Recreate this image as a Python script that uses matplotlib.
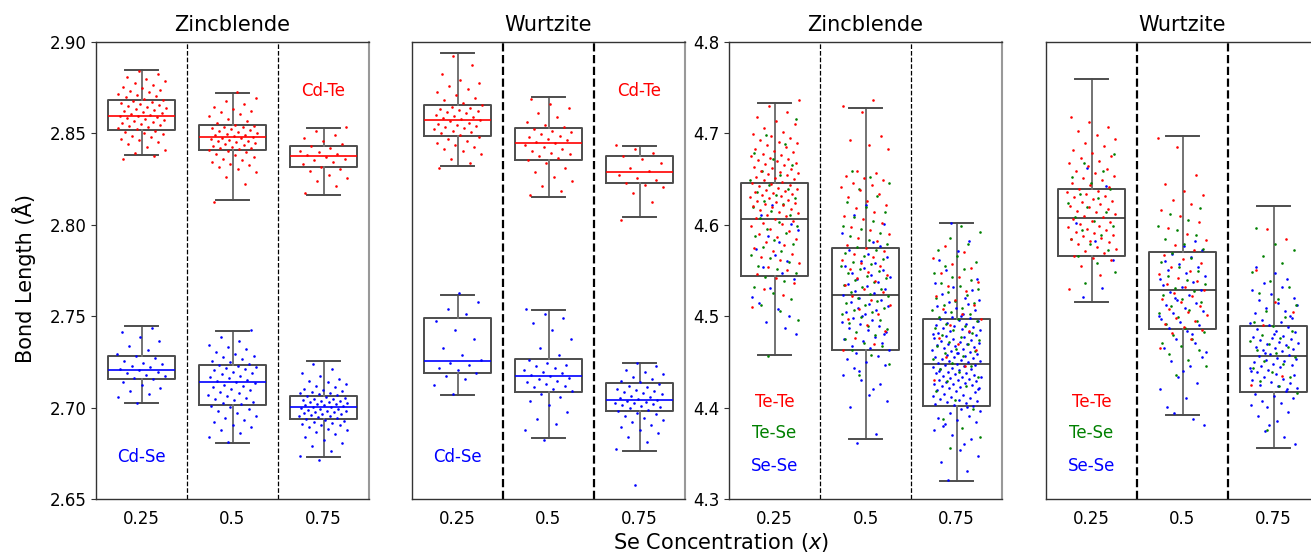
import numpy as np
import matplotlib.pyplot as plt

conc_labels = ["0.25", "0.5", "0.75"]
positions = [0, 1, 2]

# ---------------- box summaries: whislo, q1, med, q3, whishi ----------------
zb_cdte_box = [[2.8382, 2.8520, 2.8595, 2.8684, 2.8849],
               [2.8134, 2.8408, 2.8479, 2.8544, 2.8723],
               [2.8163, 2.8318, 2.8378, 2.8429, 2.8528]]
zb_cdse_box = [[2.7025, 2.7156, 2.7206, 2.7282, 2.7446],
               [2.6806, 2.7016, 2.7140, 2.7235, 2.7421],
               [2.6730, 2.6940, 2.7002, 2.7063, 2.7255]]
wz_cdte_box = [[2.8323, 2.8484, 2.8573, 2.8654, 2.8938],
               [2.8154, 2.8355, 2.8449, 2.8531, 2.8701],
               [2.8043, 2.8230, 2.8287, 2.8375, 2.8429]]
wz_cdse_box = [[2.7067, 2.7188, 2.7255, 2.7488, 2.7618],
               [2.6835, 2.7087, 2.7173, 2.7264, 2.7532],
               [2.6763, 2.6981, 2.7040, 2.7135, 2.7246]]
zb_anion_box = [[4.4579, 4.5437, 4.6060, 4.6457, 4.7333],
                [4.3660, 4.4630, 4.5229, 4.5743, 4.7278],
                [4.3194, 4.4014, 4.4480, 4.4970, 4.6023]]
wz_anion_box = [[4.5152, 4.5655, 4.6071, 4.6392, 4.7595],
                [4.3919, 4.4863, 4.5283, 4.5706, 4.6968],
                [4.3555, 4.4174, 4.4561, 4.4893, 4.6202]]

# ---------------- dot counts per bin (cation-anion: 0.005 A bins) ----------------
zb_cdte_start = [2.835, 2.810, 2.815]
zb_cdte_counts = [[3, 3, 6, 8, 10, 10, 8, 7, 5, 3],
                  [1, 0, 1, 2, 5, 6, 10, 12, 10, 4, 5, 3, 1],
                  [1, 2, 3, 4, 6, 4, 3, 2]]
zb_cdse_start = [2.700, 2.680, 2.670]
zb_cdse_counts = [[1, 3, 3, 6, 6, 4, 2, 2, 2],
                  [2, 3, 4, 4, 7, 6, 7, 7, 8, 5, 4, 2, 1],
                  [2, 2, 3, 5, 10, 14, 15, 10, 6, 3, 2]]
wz_cdte_start = [2.830, 2.815, 2.800]
wz_cdte_counts = [[2, 2, 5, 4, 8, 8, 8, 4, 3, 3, 1, 1, 1],
                  [2, 2, 2, 2, 5, 5, 6, 5, 2, 2, 2],
                  [1, 0, 1, 1, 4, 3, 2, 3, 2]]
wz_cdse_start = [2.705, 2.680, 2.655]
wz_cdse_counts = [[1, 1, 3, 4, 2, 1, 1, 1, 1, 2, 1, 1],
                  [1, 1, 2, 1, 2, 3, 6, 6, 5, 2, 1, 1, 1, 2, 2],
                  [1, 0, 0, 0, 1, 2, 3, 4, 6, 10, 8, 6, 4, 3]]

# ---------------- dot counts per bin (anion-anion: 0.02 A bins) ----------------
# Te-Te (red), Te-Se (green), Se-Se (blue)
zb_anion_start = [4.44, 4.36, 4.30]
zb_tete = [[0, 0, 0, 1, 3, 5, 6, 7, 12, 17, 15, 14, 10, 5, 3],
           [0, 0, 0, 0, 0, 3, 3, 4, 5, 6, 6, 5, 5, 5, 8, 0, 4, 0, 3],
           [0, 0, 0, 0, 0, 0, 1, 2, 3, 3, 4, 4, 4, 3, 0, 0]]
zb_tese = [[1, 0, 1, 3, 3, 5, 5, 5, 5, 6, 4, 3, 2, 1, 0],
           [0, 0, 0, 1, 2, 5, 6, 8, 8, 8, 6, 5, 4, 3, 3, 0, 0, 0, 0],
           [0, 0, 1, 2, 2, 2, 4, 6, 8, 8, 8, 6, 5, 3, 3, 0]]
zb_sese = [[0, 0, 3, 3, 2, 3, 3, 3, 2, 1, 0, 0, 0, 0, 0],
           [2, 0, 3, 4, 6, 8, 9, 9, 8, 8, 5, 2, 2, 1, 0, 0, 0, 0, 0],
           [0, 2, 3, 4, 9, 17, 23, 23, 20, 17, 9, 5, 2, 2, 1, 1]]

wz_anion_start = [4.52, 4.38, 4.36]
wz_tete = [[1, 2, 8, 12, 11, 11, 8, 7, 5, 4],
           [0, 0, 0, 0, 2, 6, 6, 6, 5, 4, 3, 3, 4, 2, 0, 2],
           [0, 0, 0, 2, 0, 0, 1, 2, 0, 1, 0, 2, 0]]
wz_tese = [[1, 2, 3, 4, 4, 4, 3, 2, 0, 0],
           [0, 0, 1, 3, 5, 5, 5, 5, 4, 4, 4, 3, 0, 0, 0, 0],
           [1, 0, 1, 4, 5, 6, 4, 3, 3, 2, 3, 1, 0]]
wz_sese = [[2, 0, 1, 1, 1, 0, 1, 1, 0, 0],
           [3, 2, 3, 4, 4, 6, 7, 7, 6, 5, 1, 0, 0, 0, 0, 0],
           [3, 4, 8, 12, 15, 15, 10, 7, 5, 3, 0, 0, 0]]


def expand(start, step, counts, phase=0.0):
    # spread the dots of each bin evenly over the bin height
    ys = []
    for i, n in enumerate(counts):
        for j in range(n):
            ys.append(start + step * (i + ((j + 0.5 + phase) % n) / n))
    return np.array(ys)


def jitter(n, pos, seed=0.0, half=0.27):
    u = (seed + 0.6180339887 * np.arange(n)) % 1.0
    return pos + (u - 0.5) * 2 * half


def box_stats(rows):
    return [dict(whislo=r[0], q1=r[1], med=r[2], q3=r[3], whishi=r[4]) for r in rows]


def draw_boxes(ax, rows, med_color):
    ax.bxp(box_stats(rows), positions=positions, widths=0.74, capwidths=0.37,
           showfliers=False, manage_ticks=False,
           boxprops=dict(color="0.3", linewidth=1.4),
           whiskerprops=dict(color="0.45", linewidth=1.4),
           capprops=dict(color="0.3", linewidth=1.4),
           medianprops=dict(color=med_color, linewidth=1.2))


def style_axes(ax, ylim, yticks, sep_lw, show_y):
    ax.set_xlim(-0.5, 2.5)
    ax.set_ylim(*ylim)
    ax.set_xticks(positions)
    ax.set_xticklabels(conc_labels, fontsize=12)
    ax.tick_params(axis="x", length=0, pad=8)
    if show_y:
        ax.set_yticks(yticks)
        ax.tick_params(axis="y", labelsize=12, length=3.5, color="0.2")
    else:
        ax.set_yticks([])
    for xs in [0.5, 1.5]:
        ax.axvline(xs, color="black", linestyle="--", linewidth=sep_lw, zorder=1)
    for side in ["top", "left", "bottom"]:
        ax.spines[side].set_color("0.2")
        ax.spines[side].set_linewidth(1.0)
    ax.spines["right"].set_color("0.6")
    ax.spines["right"].set_linewidth(1.5)


fig = plt.figure(figsize=(13.11, 5.57), dpi=100)
w, h = 273 / 1311, 457 / 557
b = 58 / 557
ax1 = fig.add_axes([96 / 1311, b, w, h])
ax2 = fig.add_axes([412 / 1311, b, w, h])
ax3 = fig.add_axes([729 / 1311, b, w, h])
ax4 = fig.add_axes([1046 / 1311, b, w, h])

dot = 3.5

# ---------- cation-anion panels ----------
for ax, te_box, se_box, te_start, te_counts, se_start, se_counts, title, sep_lw, show_y in [
        (ax1, zb_cdte_box, zb_cdse_box, zb_cdte_start, zb_cdte_counts, zb_cdse_start, zb_cdse_counts,
         "Zincblende", 0.9, True),
        (ax2, wz_cdte_box, wz_cdse_box, wz_cdte_start, wz_cdte_counts, wz_cdse_start, wz_cdse_counts,
         "Wurtzite", 1.6, False)]:
    draw_boxes(ax, te_box, "red")
    draw_boxes(ax, se_box, "blue")
    for k in range(3):
        y_te = expand(te_start[k], 0.005, te_counts[k])
        y_se = expand(se_start[k], 0.005, se_counts[k])
        ax.scatter(jitter(len(y_te), k, 0.13), y_te, s=dot, color="red", linewidths=0, zorder=3)
        ax.scatter(jitter(len(y_se), k, 0.41), y_se, s=dot, color="blue", linewidths=0, zorder=3)
    ax.text(2, 2.8734, "Cd-Te", color="red", fontsize=12, ha="center", va="center")
    ax.text(0, 2.6731, "Cd-Se", color="blue", fontsize=12, ha="center", va="center")
    ax.set_title(title, fontsize=15, pad=8)
    style_axes(ax, (2.65, 2.90), [2.65, 2.70, 2.75, 2.80, 2.85, 2.90], sep_lw, show_y)

# ---------- anion-anion panels ----------
for ax, box, start, tete, tese, sese, title, sep_lw, show_y in [
        (ax3, zb_anion_box, zb_anion_start, zb_tete, zb_tese, zb_sese, "Zincblende", 0.9, True),
        (ax4, wz_anion_box, wz_anion_start, wz_tete, wz_tese, wz_sese, "Wurtzite", 1.6, False)]:
    draw_boxes(ax, box, "0.2")
    for k in range(3):
        for counts, col, seed, ph in [(sese, "blue", 0.71, 0.6), (tese, "green", 0.37, 0.3), (tete, "red", 0.05, 0.0)]:
            ys = expand(start[k], 0.02, counts[k], ph)
            ax.scatter(jitter(len(ys), k, seed), ys, s=dot, color=col, linewidths=0, zorder=3)
    ax.text(0, 4.4065, "Te-Te", color="red", fontsize=12, ha="center", va="center")
    ax.text(0, 4.3719, "Te-Se", color="green", fontsize=12, ha="center", va="center")
    ax.text(0, 4.3361, "Se-Se", color="blue", fontsize=12, ha="center", va="center")
    ax.set_title(title, fontsize=15, pad=8)
    style_axes(ax, (4.3, 4.8), [4.3, 4.4, 4.5, 4.6, 4.7, 4.8], sep_lw, show_y)

fig.text(24 / 1311, 0.5, "Bond Length (Å)", rotation=90, fontsize=15, ha="center", va="center")
fig.text(721 / 1311, 14 / 557, "Se Concentration ($x$)", fontsize=15, ha="center", va="center")

fig.savefig("out.png", dpi=100)
